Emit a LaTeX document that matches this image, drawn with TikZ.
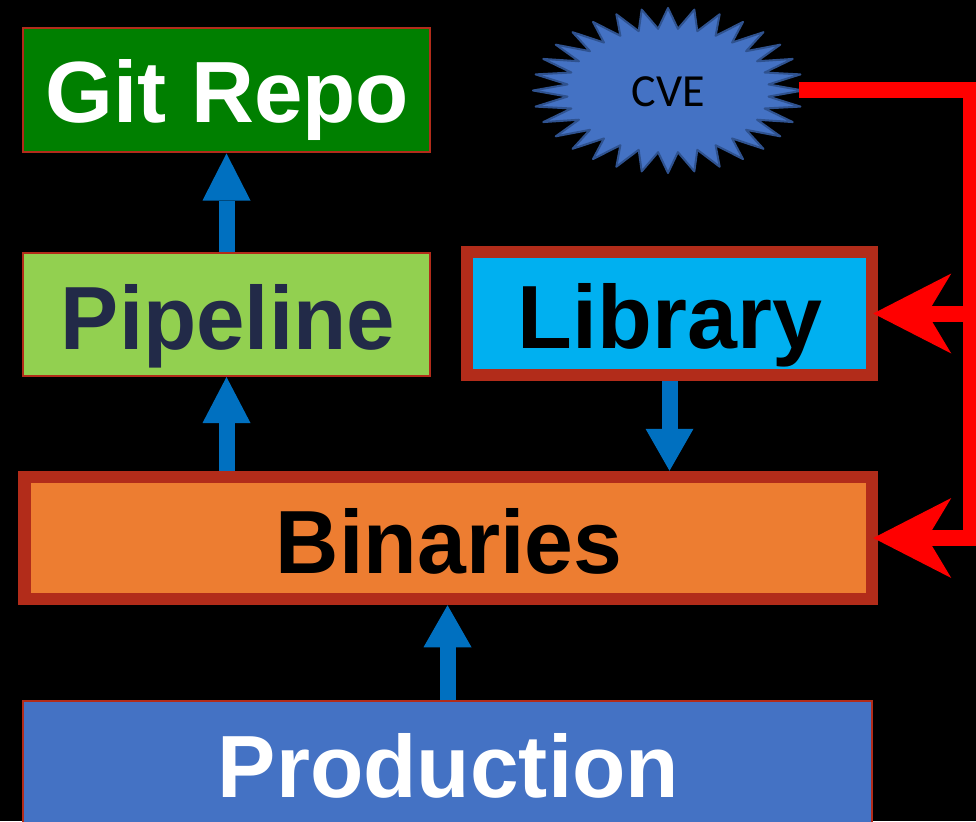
\documentclass[tikz,border=0pt]{standalone}
\usepackage{fontspec}
\usepackage{graphicx}
\usetikzlibrary{arrows.meta,shapes.geometric}

\newfontfamily\labelfont{Liberation Sans}
\newfontfamily\cvefont{Carlito}

\definecolor{gitgreen}{HTML}{007F00}
\definecolor{pipegreen}{HTML}{92D050}
\definecolor{libblue}{HTML}{00B0F0}
\definecolor{binorange}{HTML}{ED7D31}
\definecolor{prodblue}{HTML}{4472C4}
\definecolor{stardark}{HTML}{2F528F}
\definecolor{edge}{HTML}{B22C1A}
\definecolor{flow}{HTML}{0070C0}
\definecolor{alertred}{HTML}{FF0000}
\definecolor{navytext}{HTML}{222A48}

\pgfdeclarelayer{back}
\pgfdeclarelayer{under}
\pgfsetlayers{back,under,main}

% scale a label to a given width and cap height (in pt)
\newcommand\fitto[3]{\resizebox{#1pt}{#2pt}{#3}}

\tikzset{
  box/.style={rectangle, draw=edge, line width=2pt, inner sep=0pt},
  heavybox/.style={box, line width=12.5pt},
  caption/.style={inner sep=0pt, anchor=base, font=\labelfont\bfseries},
  uparrow/.style={draw=flow, line width=16pt,
    -{Triangle[length=#1pt, width=48pt, line width=0pt]}},
  uparrow/.default=46,
  alert/.style={draw=alertred, line width=16pt, line join=miter,
    -{Stealth[length=78pt, width=80pt, inset=24pt, line width=0pt]},
    shorten >=-5pt},
}

\begin{document}
\begin{tikzpicture}[x=1pt, y=-1pt]
\useasboundingbox (0,0) rectangle (976,821);
\begin{pgfonlayer}{back}
  \fill[black] (0,0) rectangle (976,821);
\end{pgfonlayer}

% boxes
\node[box, fill=gitgreen, minimum width=407pt, minimum height=124pt] (git) at (226.5,90.5) {};
\node[caption, text=white] (gittxt) at (227.5,123) {\fitto{363}{63}{Git Repo}};

\node[box, fill=pipegreen, minimum width=407pt, minimum height=123pt] (pipe) at (226.5,314.5) {};
\node[caption, text=navytext] (pipetxt) at (228,349) {\fitto{334}{65}{Pipeline}};

\node[heavybox, fill=libblue, minimum width=405pt, minimum height=123pt] (lib) at (669.5,313.5) {};
\node[caption, text=black] (libtxt) at (670,348) {\fitto{304}{65}{Library}};

\node[heavybox, fill=binorange, minimum width=847.5pt, minimum height=122pt] (bin) at (448.25,538) {};
\node[caption, text=black] (bintxt) at (449,573) {\fitto{346}{65}{Binaries}};

\node[box, fill=prodblue, minimum width=849pt, minimum height=160pt] (prod) at (447.5,781) {};
\node[caption, text=white] (prodtxt) at (448.5,797) {\fitto{461}{64}{Production}};

% 32-point star behind the CVE label
\filldraw[fill=prodblue, draw=stardark, line width=2pt, line join=round]
  (803,90.5) \foreach \k in {1,...,63}{
    -- ({668+ifthenelse(mod(\k,2)==0,135,101)*cos(\k*5.625)},
        {90.5-ifthenelse(mod(\k,2)==0,82.5,62)*sin(\k*5.625)})
  } -- cycle;
\node[ellipse, minimum width=262pt, minimum height=160pt, inner sep=0pt] (cve) at (668,90.5) {};
\node[inner sep=0pt, anchor=base, font=\cvefont\fontsize{46}{50}\selectfont] (cvetxt) at (668.5,107) {CVE};

% upward flow arrows, kept behind the boxes
\begin{pgfonlayer}{under}
  \draw[uparrow=47] (pipe.north) -- (git.south);
  \draw[uparrow=46] (bin.north -| pipe.south) -- (pipe.south);
  \draw[uparrow=42] (lib.south) -- (lib.south |- bin.north);
  \draw[uparrow=42] (prod.north) -- (prod.north |- bin.south);
\end{pgfonlayer}

% CVE feed into library and binaries
\coordinate (railtop) at (971,90.5);
\coordinate (railbot) at (971,538);
\draw[alert] (cve.east) -- (railtop) -- (railbot) -- (bin.east);
\draw[alert] (railtop |- lib.east) -- (lib.east);
\end{tikzpicture}
\end{document}
